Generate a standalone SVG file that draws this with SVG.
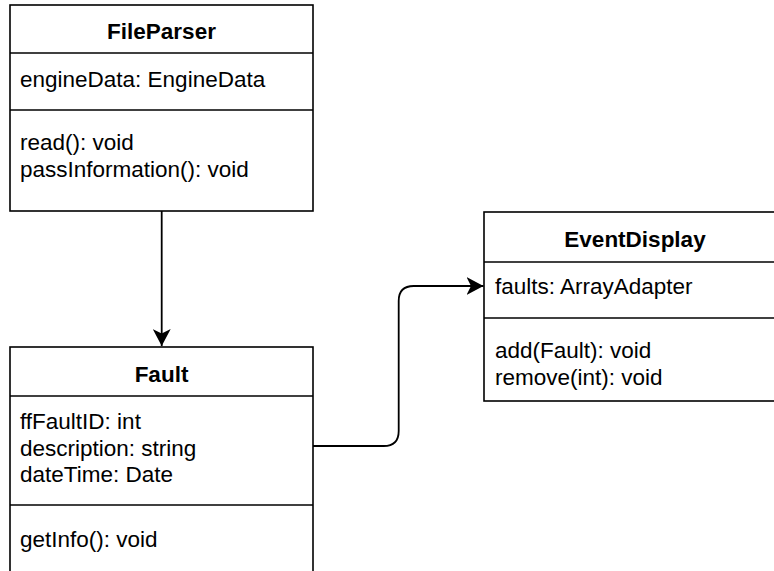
<svg xmlns="http://www.w3.org/2000/svg" width="774" height="571" viewBox="0 0 774 571">
  <style>
    .box { fill: #ffffff; stroke: #000000; stroke-width: 1.6; }
    .sep { stroke: #000000; stroke-width: 1.6; fill: none; }
    .title { font-family: "Liberation Sans", Arial, sans-serif; font-size: 22.5px; font-weight: bold; fill: #000000; text-anchor: middle; }
    .member { font-family: "Liberation Sans", Arial, sans-serif; font-size: 22.5px; fill: #000000; }
    .edge { stroke: #000000; stroke-width: 1.8; fill: none; }
  </style>
  <defs>
    <marker id="arrow" markerUnits="userSpaceOnUse" markerWidth="18" markerHeight="18" viewBox="0 0 18 18" refX="17" refY="9" orient="auto">
      <path d="M0,0 L17,9 L0,18 L4.5,9 Z" fill="#000000"/>
    </marker>
  </defs>
  <rect width="774" height="571" fill="#ffffff"/>

  <!-- FileParser class -->
  <g id="FileParser">
    <rect class="box" x="10" y="5" width="303" height="206"/>
    <line class="sep" x1="10" y1="53" x2="313" y2="53"/>
    <line class="sep" x1="10" y1="110" x2="313" y2="110"/>
    <text class="title" x="161.5" y="39">FileParser</text>
    <text class="member" x="20" y="87">engineData: EngineData</text>
    <text class="member" x="20" y="150">read(): void</text>
    <text class="member" x="20" y="177">passInformation(): void</text>
  </g>

  <!-- Fault class -->
  <g id="Fault">
    <rect class="box" x="10" y="347" width="303" height="240"/>
    <line class="sep" x1="10" y1="396" x2="313" y2="396"/>
    <line class="sep" x1="10" y1="505" x2="313" y2="505"/>
    <text class="title" x="161.5" y="382">Fault</text>
    <text class="member" x="20" y="429">ffFaultID: int</text>
    <text class="member" x="20" y="456">description: string</text>
    <text class="member" x="20" y="482">dateTime: Date</text>
    <text class="member" x="20" y="547">getInfo(): void</text>
  </g>

  <!-- EventDisplay class -->
  <g id="EventDisplay">
    <rect class="box" x="484" y="212" width="303" height="189"/>
    <line class="sep" x1="484" y1="262" x2="787" y2="262"/>
    <line class="sep" x1="484" y1="318" x2="787" y2="318"/>
    <text class="title" x="635" y="247">EventDisplay</text>
    <text class="member" x="495" y="294">faults: ArrayAdapter</text>
    <text class="member" x="495" y="358">add(Fault): void</text>
    <text class="member" x="495" y="385">remove(int): void</text>
  </g>

  <!-- Connectors -->
  <g id="connectors">
    <path class="edge" d="M161.7,211 L161.7,346" marker-end="url(#arrow)"/>
    <path class="edge" d="M313,446 L383.7,446 Q398.7,446 398.7,431 L398.7,301 Q398.7,286 413.7,286 L483.5,286" marker-end="url(#arrow)"/>
  </g>
</svg>
